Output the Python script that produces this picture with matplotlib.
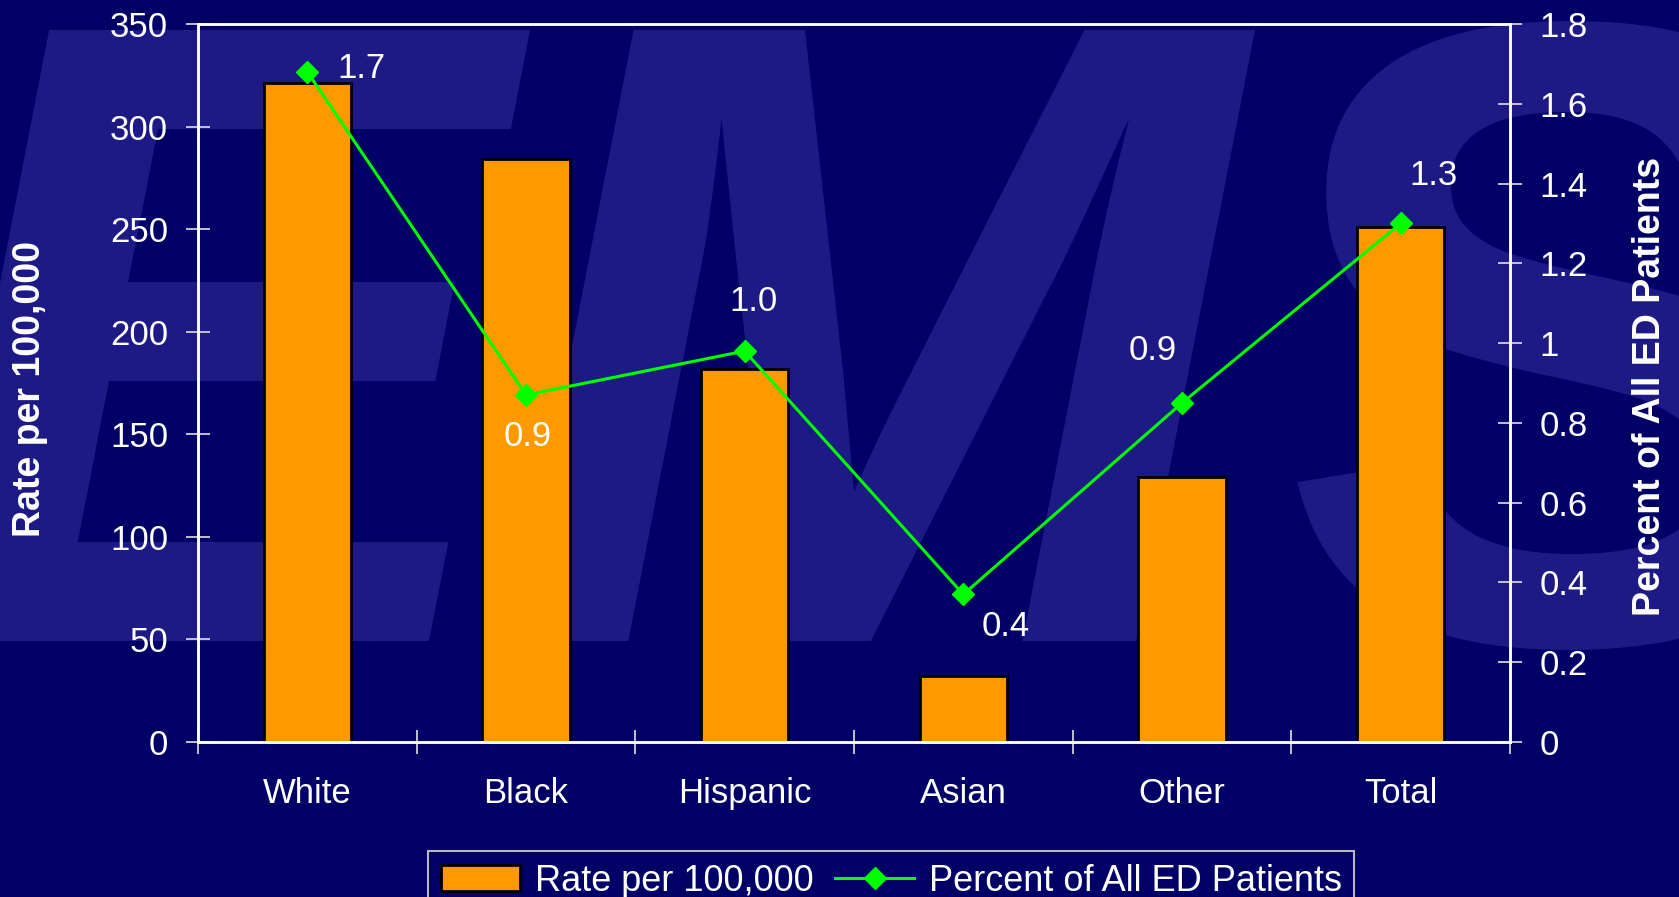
import numpy as np
import matplotlib
matplotlib.use("Agg")
import matplotlib.pyplot as plt
from matplotlib.patches import Patch
from matplotlib.lines import Line2D
from matplotlib.ticker import FuncFormatter, MultipleLocator

plt.rcParams['font.family'] = ['Liberation Sans', 'DejaVu Sans']

# ---- data ----
categories = ["White", "Black", "Hispanic", "Asian", "Other", "Total"]
rate_per_100k = [321, 284, 182, 32, 129, 251]
pct_all_ed = [1.68, 0.87, 0.98, 0.37, 0.85, 1.30]
pct_labels = ["1.7", "0.9", "1.0", "0.4", "0.9", "1.3"]
legend_labels = ["Rate per 100,000", "Percent of All ED Patients"]

# ---- styles / positions ----
BG = "#000066"
WM = "#1D1A86"
ORANGE = "#FF9900"
GREEN = "#00FF00"
label_offsets_px = [(54, 3), (2, -42), (9, 50), (42, -32), (-29, 52), (33, 48)]

W, H = 1679, 897
fig = plt.figure(figsize=(W / 100, H / 100), dpi=100, facecolor=BG)

# watermark "EMS"
wm_base = 1 - 641 / H
fig.text(-86 / W, wm_base, "E", fontsize=640, fontweight="bold", style="italic",
         color=WM, ha="left", va="baseline", zorder=-1)
fig.text(498 / W, wm_base, "M", fontsize=640, fontweight="bold", style="italic",
         color=WM, ha="left", va="baseline", zorder=-1)
fig.text(1271 / W, wm_base, "S", fontsize=640, fontweight="bold",
         color=WM, ha="left", va="baseline", zorder=-1)

left, right, top, bottom = 198, 1510, 24, 742
ax = fig.add_axes([left / W, 1 - bottom / H, (right - left) / W, (bottom - top) / H])
ax.patch.set_visible(False)

x = np.arange(len(categories))
ax.bar(x, rate_per_100k, width=0.4, color=ORANGE, edgecolor="black", linewidth=2, zorder=2)
ax.set_xlim(-0.5, len(categories) - 0.5)
ax.set_ylim(0, 350)
ax.yaxis.set_major_locator(MultipleLocator(50))

ax.set_xticks(np.arange(-0.5, len(categories), 1))
ax.set_xticklabels([])
ax.set_xticks(x, minor=True)
ax.set_xticklabels(categories, minor=True)
ax.tick_params(axis="x", which="major", direction="inout", length=17, width=1.2, color="#e0e0e0")
ax.tick_params(axis="x", which="minor", length=0, pad=25, labelsize=25, labelcolor="white")
ax.tick_params(axis="y", direction="inout", length=17, width=1.2, color="#e0e0e0",
               pad=13, labelsize=25, labelcolor="white")

for s in ax.spines.values():
    s.set_color("white")
    s.set_linewidth(1.8)

ax2 = ax.twinx()
ax2.patch.set_visible(False)
ax2.set_ylim(0, 1.8)
ax2.yaxis.set_major_locator(MultipleLocator(0.2))
ax2.yaxis.set_major_formatter(FuncFormatter(lambda v, p: f"{round(v, 1):g}"))
ax2.tick_params(axis="y", direction="inout", length=17, width=1.2, color="#e0e0e0",
                pad=13, labelsize=25, labelcolor="white")
for s in ax2.spines.values():
    s.set_color("white")
    s.set_linewidth(1.8)

ax2.plot(x, pct_all_ed, color=GREEN, lw=2.2, marker="D", ms=11, zorder=3)
for xi, yi, lab, off in zip(x, pct_all_ed, pct_labels, label_offsets_px):
    ax2.annotate(lab, (xi, yi), xytext=off, textcoords="offset pixels",
                 ha="center", va="center", fontsize=25, color="white")

fig.text(30 / W, 1 - 388.5 / H, "Rate per 100,000", rotation=90, ha="center", va="center",
         fontsize=27, fontweight="bold", color="white")
fig.text(1650 / W, 1 - 386.5 / H, "Percent of All ED Patients", rotation=90, ha="center",
         va="center", fontsize=27, fontweight="bold", color="white")

handles = [Patch(facecolor=ORANGE, edgecolor="black", linewidth=2),
           Line2D([], [], color=GREEN, lw=2.2, marker="D", ms=11)]
leg = fig.legend(handles, legend_labels, loc="upper left", bbox_to_anchor=(428 / W, 1 - 851 / H),
                 ncol=2, fontsize=26, frameon=True, fancybox=False, edgecolor="#B8B8B8",
                 facecolor=BG, framealpha=1, labelcolor="white", handlelength=2.2,
                 handletextpad=0.4, columnspacing=0.6, borderaxespad=0, borderpad=0.35,
                 numpoints=1)
leg.get_frame().set_linewidth(1.5)

fig.savefig("out.png", dpi=100, facecolor=BG)
